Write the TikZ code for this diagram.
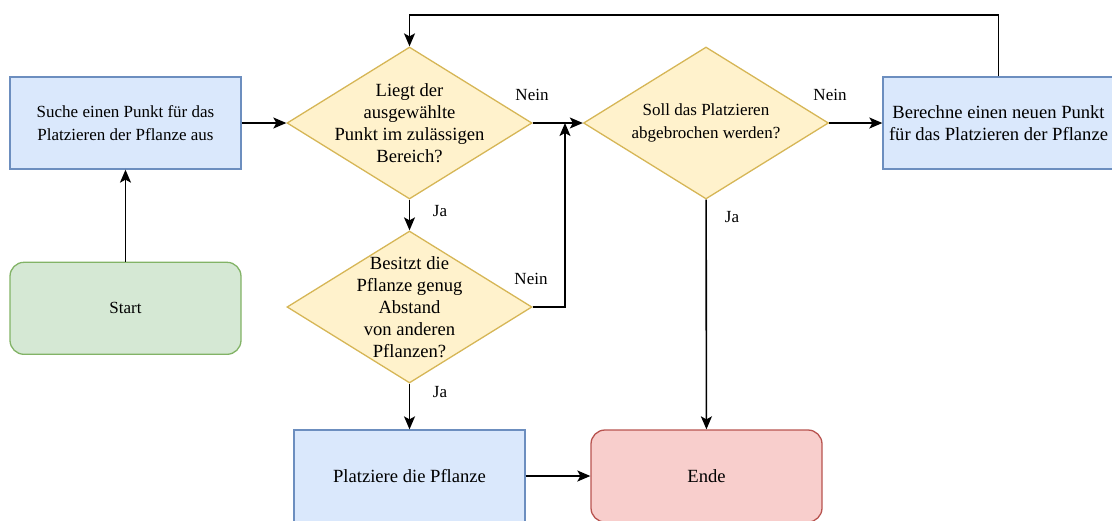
\documentclass[tikz,border=0pt]{standalone}
\usepackage{fontspec}
\setmainfont{Liberation Serif}
\usetikzlibrary{positioning,shapes.geometric,arrows.meta}
\definecolor{procfill}{HTML}{DAE8FC}
\definecolor{procline}{HTML}{6C8EBF}
\definecolor{decfill}{HTML}{FFF2CC}
\definecolor{decline}{HTML}{D6B656}
\definecolor{startfill}{HTML}{D5E8D4}
\definecolor{startline}{HTML}{82B366}
\definecolor{endfill}{HTML}{F8CECC}
\definecolor{endline}{HTML}{B85450}

\begin{document}
\begin{tikzpicture}[x=1pt,y=-1pt,node distance=92pt,
      startstop/.style={rectangle,rounded corners=14pt,minimum width=231pt,minimum height=92pt,text centered,line width=1.3pt},
      process/.style={rectangle,minimum width=231pt,minimum height=92pt,align=center,draw=procline,fill=procfill,line width=1.3pt},
      decision/.style={diamond,minimum width=245pt,minimum height=152pt,inner sep=-22pt,align=center,draw=decline,fill=decfill,line width=1.3pt},
      bigtext/.style={font=\fontsize{18.6}{22}\selectfont},
      lbl/.style={font=\fontsize{17}{20}\selectfont},
      arr/.style={line width=1.6pt,-{Stealth[length=13pt,width=11pt,inset=3pt]}}
      ]
      \fontsize{17}{22.5}\selectfont
      \useasboundingbox (0,0) rectangle (1112,520);
      \node (suche) [process] at (125.5,123) {Suche einen Punkt für das\\Platzieren der Pflanze aus};
      \node (start) [startstop,draw=startline,fill=startfill,below=of suche] {Start};
      \node (d1) [decision,bigtext] at (409.5,123) {Liegt der\\ausgewählte\\Punkt im zulässigen\\Bereich?};
      \node (d2) [decision,bigtext] at (409.5,307) {Besitzt die\\Pflanze genug\\Abstand\\von anderen\\Pflanzen?};
      \node (d3) [decision] at (706,123) {Soll das Platzieren\\abgebrochen werden?};
      \node (ber) [process,bigtext] at (998.5,123) {Berechne einen neuen Punkt\\für das Platzieren der Pflanze};
      \node (platz) [process,bigtext] at (409.5,476) {Platziere die Pflanze};
      \node (ende) [startstop,bigtext,draw=endline,fill=endfill] at (706.5,476) {Ende};
      \coordinate (top) at (700,15);
      \coordinate (join) at (565,123);
      \draw[arr] (start) -- (suche);
      \draw[arr] (suche) -- (d1);
      \draw[arr] (d1) -- (d3);
      \draw[arr] (d3) -- (ber);
      \draw[arr] (ber.north) |- (top) -| (d1.north);
      \draw[arr] (d1) -- (d2);
      \draw[arr] (d2.east) -| (join);
      \draw[arr] (d2) -- (platz);
      \draw[arr] (platz) -- (ende);
      \draw[arr] (d3) -- (ende);
      \node (n1) [lbl] at (532,95) {Nein};
      \node (n2) [lbl] at (830,95) {Nein};
      \node (n3) [lbl] at (531,279) {Nein};
      \node (j1) [lbl] at (440,211) {Ja};
      \node (j2) [lbl] at (440,392) {Ja};
      \node (j3) [lbl] at (732,217) {Ja};
    \end{tikzpicture}
\end{document}
